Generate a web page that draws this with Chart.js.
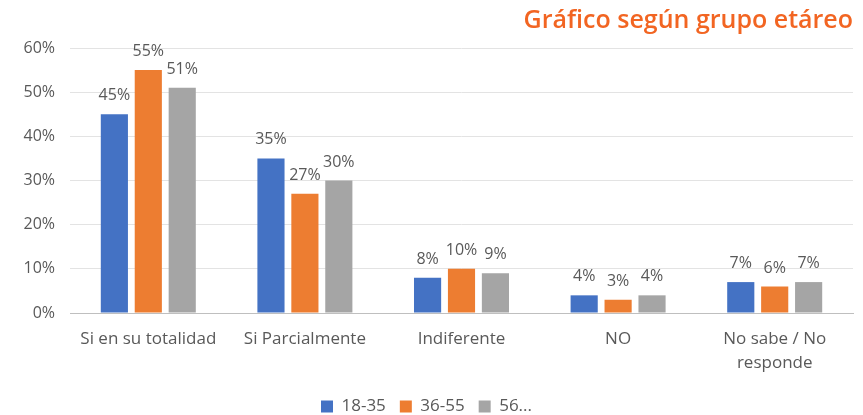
<!DOCTYPE html>
<html>
<head>
<meta charset="utf-8">
<script src="https://cdn.jsdelivr.net/npm/chart.js@4/dist/chart.umd.min.js"></script>
<style>
html,body{margin:0;padding:0;background:#fff;}
#wrap{width:863px;height:415px;position:relative;}
</style>
</head>
<body>
<div id="wrap"><canvas id="c" width="863" height="415"></canvas></div>
<script>
const categories = ["Si en su totalidad", "Si Parcialmente", "Indiferente", "NO", ["No sabe / No", "responde"]];
const seriesNames = ["18-35", "36-55", "56..."];
const s1835 = [45, 35, 8, 4, 7];
const s3655 = [55, 27, 10, 3, 6];
const s56 = [51, 30, 9, 4, 7];
const yTicks = [0, 10, 20, 30, 40, 50, 60];
const titleText = "Gráfico según grupo etáreo";

const FONT = "'Open Sans', sans-serif";

const labelPlugin = {
  id: 'barLabels',
  afterDatasetsDraw(chart) {
    const ctx = chart.ctx;
    ctx.save();
    ctx.font = "16px " + FONT;
    ctx.fillStyle = '#595959';
    ctx.textAlign = 'center';
    ctx.textBaseline = 'alphabetic';
    chart.data.datasets.forEach((ds, i) => {
      const meta = chart.getDatasetMeta(i);
      meta.data.forEach((bar, j) => {
        ctx.fillText(ds.data[j] + '%', bar.x, bar.y - 14);
      });
    });
    ctx.restore();
  }
};

new Chart(document.getElementById('c'), {
  type: 'bar',
  data: {
    labels: categories,
    datasets: [
      {label: seriesNames[0], data: s1835, backgroundColor: '#4472C4'},
      {label: seriesNames[1], data: s3655, backgroundColor: '#ED7D31'},
      {label: seriesNames[2], data: s56, backgroundColor: '#A5A5A5'}
    ]
  },
  options: {
    responsive: false,
    maintainAspectRatio: false,
    animation: false,
    devicePixelRatio: 1,
    layout: {padding: {left: 0, right: 10, top: 0, bottom: -10}},
    datasets: {bar: {barPercentage: 0.8, categoryPercentage: 0.65}},
    plugins: {
      title: {
        display: true, text: titleText, align: 'end',
        color: '#F26522',
        font: {family: "'Open Sans', sans-serif", size: 25, weight: '600'},
        padding: {top: 6, bottom: 12}
      },
      legend: {
        position: 'bottom',
        labels: {
          boxWidth: 12, boxHeight: 12, color: '#595959',
          font: {family: FONT, size: 17}, padding: 14
        }
      },
      tooltip: {enabled: false}
    },
    scales: {
      x: {
        grid: {display: false},
        border: {color: '#bfbfbf'},
        afterFit(axis) { axis.height = 71; },
        ticks: {color: '#595959', font: {family: FONT, size: 17, lineHeight: 1.4}, maxRotation: 0, autoSkip: false, padding: 6}
      },
      y: {
        min: 0, max: 60,
        afterBuildTicks(axis) { axis.ticks = yTicks.map(v => ({value: v})); },
        afterFit(axis) { axis.width = 70; },
        grid: {color: '#e3e3e3', drawTicks: false},
        border: {display: false},
        ticks: {color: '#595959', font: {family: FONT, size: 16}, padding: 15, callback: v => v + '%'}
      }
    }
  },
  plugins: [labelPlugin]
});
</script>
</body>
</html>
